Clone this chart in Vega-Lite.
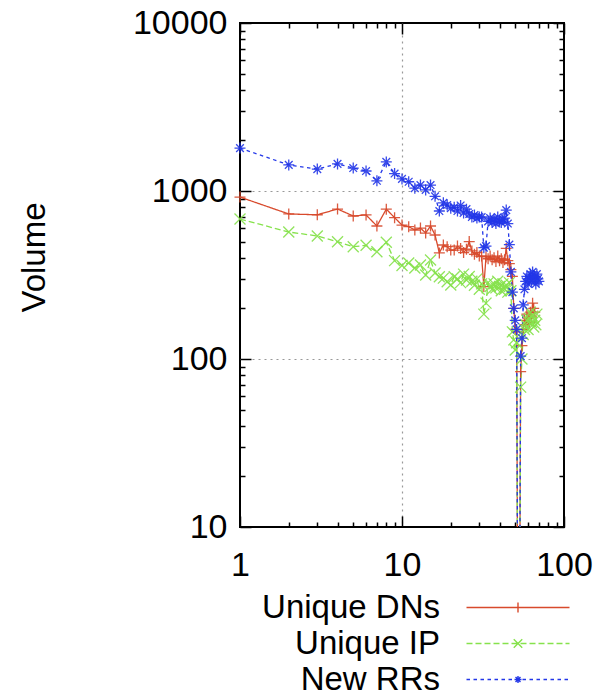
{
  "$schema": "https://vega.github.io/schema/vega-lite/v6.json",
  "width": 324,
  "height": 504,
  "autosize": {"type": "none"},
  "padding": {"left": 240, "top": 23, "right": 42, "bottom": 169},
  "background": "white",
  "config": {
    "font": "Liberation Sans",
    "view": {"stroke": "black", "strokeWidth": 2},
    "axis": {
      "domain": false,
      "labelFont": "Liberation Sans",
      "labelFontSize": 34,
      "labelColor": "black",
      "tickColor": "black",
      "tickWidth": 1.5,
      "titleFont": "Liberation Sans",
      "titleColor": "black",
      "titleFontWeight": "normal",
      "titleFontSize": 33,
      "gridColor": "#999999",
      "gridDash": [2, 4],
      "gridWidth": 1.2
    }
  },
  "data": {
    "values": [
      {"x": 1, "Unique DNs": 920, "Unique IP": 681, "New RRs": 1800},
      {"x": 2, "Unique DNs": 730, "Unique IP": 570, "New RRs": 1430},
      {"x": 3, "Unique DNs": 722, "Unique IP": 540, "New RRs": 1350},
      {"x": 4, "Unique DNs": 781, "Unique IP": 499, "New RRs": 1450},
      {"x": 5, "Unique DNs": 710, "Unique IP": 466, "New RRs": 1370},
      {"x": 6, "Unique DNs": 720, "Unique IP": 475, "New RRs": 1315},
      {"x": 7, "Unique DNs": 619, "Unique IP": 435, "New RRs": 1150},
      {"x": 8, "Unique DNs": 780, "Unique IP": 495, "New RRs": 1490},
      {"x": 9, "Unique DNs": 694, "Unique IP": 385, "New RRs": 1270},
      {"x": 10, "Unique DNs": 627, "Unique IP": 360, "New RRs": 1180},
      {"x": 11, "Unique DNs": 613, "Unique IP": 373, "New RRs": 1135},
      {"x": 12, "Unique DNs": 586, "Unique IP": 348, "New RRs": 1040},
      {"x": 13, "Unique DNs": 602, "Unique IP": 363, "New RRs": 1085},
      {"x": 14, "Unique DNs": 562, "Unique IP": 316, "New RRs": 1015},
      {"x": 15, "Unique DNs": 619, "Unique IP": 388, "New RRs": 1085},
      {"x": 16, "Unique DNs": 547, "Unique IP": 325, "New RRs": 930},
      {"x": 17, "Unique DNs": 428, "Unique IP": 309, "New RRs": 760},
      {"x": 18, "Unique DNs": 477, "Unique IP": 303, "New RRs": 850},
      {"x": 19, "Unique DNs": 466, "Unique IP": 288, "New RRs": 825},
      {"x": 20, "Unique DNs": 445, "Unique IP": 276, "New RRs": 790},
      {"x": 21, "Unique DNs": 445, "Unique IP": 309, "New RRs": 800},
      {"x": 22, "Unique DNs": 470, "Unique IP": 300, "New RRs": 760},
      {"x": 23, "Unique DNs": 455, "Unique IP": 285, "New RRs": 820},
      {"x": 24, "Unique DNs": 430, "Unique IP": 320, "New RRs": 740},
      {"x": 25, "Unique DNs": 450, "Unique IP": 295, "New RRs": 780},
      {"x": 26, "Unique DNs": 500, "Unique IP": 310, "New RRs": 730},
      {"x": 27, "Unique DNs": 440, "Unique IP": 290, "New RRs": 700},
      {"x": 28, "Unique DNs": 420, "Unique IP": 275, "New RRs": 720},
      {"x": 29, "Unique DNs": 430, "Unique IP": 300, "New RRs": 690},
      {"x": 30, "Unique DNs": 410, "Unique IP": 260, "New RRs": 700},
      {"x": 31, "Unique DNs": 410, "Unique IP": 280, "New RRs": 700},
      {"x": 32, "Unique DNs": 270, "Unique IP": 185, "New RRs": 460},
      {"x": 33, "Unique DNs": 405, "Unique IP": 215, "New RRs": 470},
      {"x": 34, "Unique DNs": 395, "Unique IP": 285, "New RRs": 660},
      {"x": 35, "Unique DNs": 410, "Unique IP": 270, "New RRs": 690},
      {"x": 36, "Unique DNs": 390, "Unique IP": 260, "New RRs": 650},
      {"x": 37, "Unique DNs": 400, "Unique IP": 280, "New RRs": 680},
      {"x": 38, "Unique DNs": 380, "Unique IP": 265, "New RRs": 640},
      {"x": 39, "Unique DNs": 410, "Unique IP": 290, "New RRs": 700},
      {"x": 40, "Unique DNs": 385, "Unique IP": 270, "New RRs": 660},
      {"x": 41, "Unique DNs": 395, "Unique IP": 255, "New RRs": 650},
      {"x": 42, "Unique DNs": 375, "Unique IP": 280, "New RRs": 680},
      {"x": 43, "Unique DNs": 390, "Unique IP": 260, "New RRs": 690},
      {"x": 44, "Unique DNs": 455, "Unique IP": 275, "New RRs": 770},
      {"x": 45, "Unique DNs": 385, "Unique IP": 250, "New RRs": 640},
      {"x": 46, "Unique DNs": 370, "Unique IP": 285, "New RRs": 480},
      {"x": 47, "Unique DNs": 340, "Unique IP": 255, "New RRs": 330},
      {"x": 48, "Unique DNs": 310, "Unique IP": 145, "New RRs": 250},
      {"x": 49, "Unique DNs": 200, "Unique IP": 130, "New RRs": 200},
      {"x": 50, "Unique DNs": 150, "Unique IP": 113, "New RRs": 170},
      {"x": 51, "Unique DNs": 145, "Unique IP": 125, "New RRs": 150},
      {"x": 52, "Unique DNs": 1, "Unique IP": 1, "New RRs": 1},
      {"x": 53, "Unique DNs": 1, "Unique IP": 1, "New RRs": 1},
      {"x": 54, "Unique DNs": 84, "Unique IP": 68, "New RRs": 104},
      {"x": 55, "Unique DNs": 120, "Unique IP": 100, "New RRs": 133},
      {"x": 56, "Unique DNs": 150, "Unique IP": 140, "New RRs": 210},
      {"x": 57, "Unique DNs": 170, "Unique IP": 150, "New RRs": 260},
      {"x": 58, "Unique DNs": 160, "Unique IP": 160, "New RRs": 290},
      {"x": 59, "Unique DNs": 185, "Unique IP": 170, "New RRs": 310},
      {"x": 60, "Unique DNs": 175, "Unique IP": 150, "New RRs": 280},
      {"x": 61, "Unique DNs": 165, "Unique IP": 175, "New RRs": 300},
      {"x": 62, "Unique DNs": 190, "Unique IP": 190, "New RRs": 320},
      {"x": 63, "Unique DNs": 180, "Unique IP": 165, "New RRs": 290},
      {"x": 64, "Unique DNs": 215, "Unique IP": 180, "New RRs": 330},
      {"x": 65, "Unique DNs": 200, "Unique IP": 155, "New RRs": 300},
      {"x": 66, "Unique DNs": 190, "Unique IP": 170, "New RRs": 310},
      {"x": 67, "Unique IP": 160, "New RRs": 280},
      {"x": 68, "Unique IP": 185, "New RRs": 320},
      {"x": 69, "New RRs": 300},
      {"x": 70, "New RRs": 290}
    ]
  },
  "transform": [
    {"fold": ["Unique DNs", "Unique IP", "New RRs"], "as": ["s", "v"]},
    {"filter": "isValid(datum.v)"}
  ],
  "layer": [
    {
      "mark": {"type": "line", "clip": true, "strokeWidth": 1.3},
      "encoding": {
        "x": {
          "field": "x", "type": "quantitative",
          "scale": {"type": "log", "domain": [1, 100], "nice": false},
          "axis": {
            "orient": "bottom", "title": null,
            "values": [1, 2, 3, 4, 5, 6, 7, 8, 9, 10, 20, 30, 40, 50, 60, 70, 80, 90, 100],
            "labelExpr": "indexof([1, 10, 100], datum.value) >= 0 ? format(datum.value, 'd') : ''",
            "labelOverlap": false, "labelFlush": false, "labelPadding": 32,
            "tickSize": {"condition": {"test": "indexof([1, 10, 100], datum.value) >= 0", "value": -11}, "value": -5},
            "grid": true,
            "gridOpacity": {"condition": {"test": "datum.value == 10", "value": 1}, "value": 0}
          }
        },
        "y": {
          "field": "v", "type": "quantitative",
          "scale": {"type": "log", "domain": [10, 10000], "nice": false},
          "axis": {
            "orient": "left", "title": "Volume",
            "titleX": -206, "titleY": 234, "titleAngle": -90, "titleAlign": "center", "titleBaseline": "middle",
            "values": [10, 20, 30, 40, 50, 60, 70, 80, 90, 100, 200, 300, 400, 500, 600, 700, 800, 900, 1000, 2000, 3000, 4000, 5000, 6000, 7000, 8000, 9000, 10000],
            "labelExpr": "indexof([10, 100, 1000, 10000], datum.value) >= 0 ? format(datum.value, 'd') : ''",
            "labelOverlap": false, "labelFlush": false, "labelPadding": 24,
            "tickSize": {"condition": {"test": "indexof([10, 100, 1000, 10000], datum.value) >= 0", "value": -11}, "value": -5},
            "grid": true,
            "gridOpacity": {"condition": {"test": "datum.value == 100 || datum.value == 1000", "value": 1}, "value": 0}
          }
        },
        "color": {
          "field": "s", "type": "nominal",
          "scale": {"domain": ["Unique DNs", "Unique IP", "New RRs"], "range": ["#d84a2c", "#86e24c", "#2236e8"]},
          "legend": {
            "orient": "none", "legendX": 200, "legendY": 568, "title": null,
            "labelFont": "Liberation Sans", "labelFontSize": 33, "labelColor": "black", "labelLimit": 0,
            "symbolSize": 100, "symbolStrokeWidth": 1.4, "symbolType": "M-10.3,0L10.3,0",
            "rowPadding": 2, "padding": 0,
            "encode": {
              "symbols": {"update": {
                "x": {"value": 78},
                "fill": {"value": "transparent"},
                "shape": {"signal": "datum.value === 'Unique DNs' ? 'M-10.3,0L10.3,0M0,-1L0,1' : datum.value === 'Unique IP' ? 'M-10.3,0L10.3,0M0,0L0.85,0.85M0,0L-0.85,0.85M0,0L0.85,-0.85M0,0L-0.85,-0.85' : 'M-10.3,0L10.3,0M0,0L1,0M0,0L-1,0M0,0L0,1M0,0L0,-1M0,0L0.7,0.7M0,0L-0.7,0.7M0,0L0.7,-0.7M0,0L-0.7,-0.7'"},
                "strokeDash": {"signal": "datum.value === 'Unique IP' ? [6, 3] : datum.value === 'New RRs' ? [3.5, 3.5] : [1, 0]"}
              }},
              "labels": {"update": {"x": {"value": 0}, "align": {"value": "right"}}}
            }
          }
        },
        "strokeDash": {
          "field": "s", "type": "nominal",
          "scale": {"domain": ["Unique DNs", "Unique IP", "New RRs"], "range": [[1, 0], [6, 3], [3.5, 3.5]]},
          "legend": null
        }
      }
    },
    {
      "transform": [{"filter": "datum.v > 1 && datum.s === 'Unique DNs'"}],
      "mark": {"type": "point", "filled": false, "size": 121, "strokeWidth": 1.3, "opacity": 0.9, "color": "#d84a2c", "shape": "M-1,0L1,0M0,-1L0,1"},
      "encoding": {
        "x": {
          "field": "x", "type": "quantitative",
          "scale": {"type": "log", "domain": [1, 100], "nice": false},
          "axis": {
            "orient": "top", "title": null, "labels": false, "grid": false,
            "values": [1, 2, 3, 4, 5, 6, 7, 8, 9, 10, 20, 30, 40, 50, 60, 70, 80, 90, 100],
            "tickSize": {"condition": {"test": "indexof([1, 10, 100], datum.value) >= 0", "value": -11}, "value": -5}
          }
        },
        "y": {
          "field": "v", "type": "quantitative",
          "scale": {"type": "log", "domain": [10, 10000], "nice": false},
          "axis": {
            "orient": "right", "title": null, "labels": false, "grid": false,
            "values": [10, 20, 30, 40, 50, 60, 70, 80, 90, 100, 200, 300, 400, 500, 600, 700, 800, 900, 1000, 2000, 3000, 4000, 5000, 6000, 7000, 8000, 9000, 10000],
            "tickSize": {"condition": {"test": "indexof([10, 100, 1000, 10000], datum.value) >= 0", "value": -11}, "value": -5}
          }
        }
      }
    },
    {
      "transform": [{"filter": "datum.v > 1 && datum.s === 'Unique IP'"}],
      "mark": {"type": "point", "filled": false, "size": 121, "strokeWidth": 1.3, "opacity": 0.9, "color": "#86e24c", "shape": "M-1,-1L1,1M-1,1L1,-1"},
      "encoding": {
        "x": {"field": "x", "type": "quantitative", "scale": {"type": "log", "domain": [1, 100], "nice": false}, "axis": null},
        "y": {"field": "v", "type": "quantitative", "scale": {"type": "log", "domain": [10, 10000], "nice": false}, "axis": null}
      }
    },
    {
      "transform": [{"filter": "datum.v > 1 && datum.s === 'New RRs'"}],
      "mark": {"type": "point", "filled": false, "size": 121, "strokeWidth": 1.3, "opacity": 0.9, "color": "#2236e8", "shape": "M-1,0L1,0M0,-1L0,1M-0.7,-0.7L0.7,0.7M-0.7,0.7L0.7,-0.7"},
      "encoding": {
        "x": {"field": "x", "type": "quantitative", "scale": {"type": "log", "domain": [1, 100], "nice": false}, "axis": null},
        "y": {"field": "v", "type": "quantitative", "scale": {"type": "log", "domain": [10, 10000], "nice": false}, "axis": null}
      }
    }
  ],
  "resolve": {"axis": {"x": "independent", "y": "independent"}}
}
